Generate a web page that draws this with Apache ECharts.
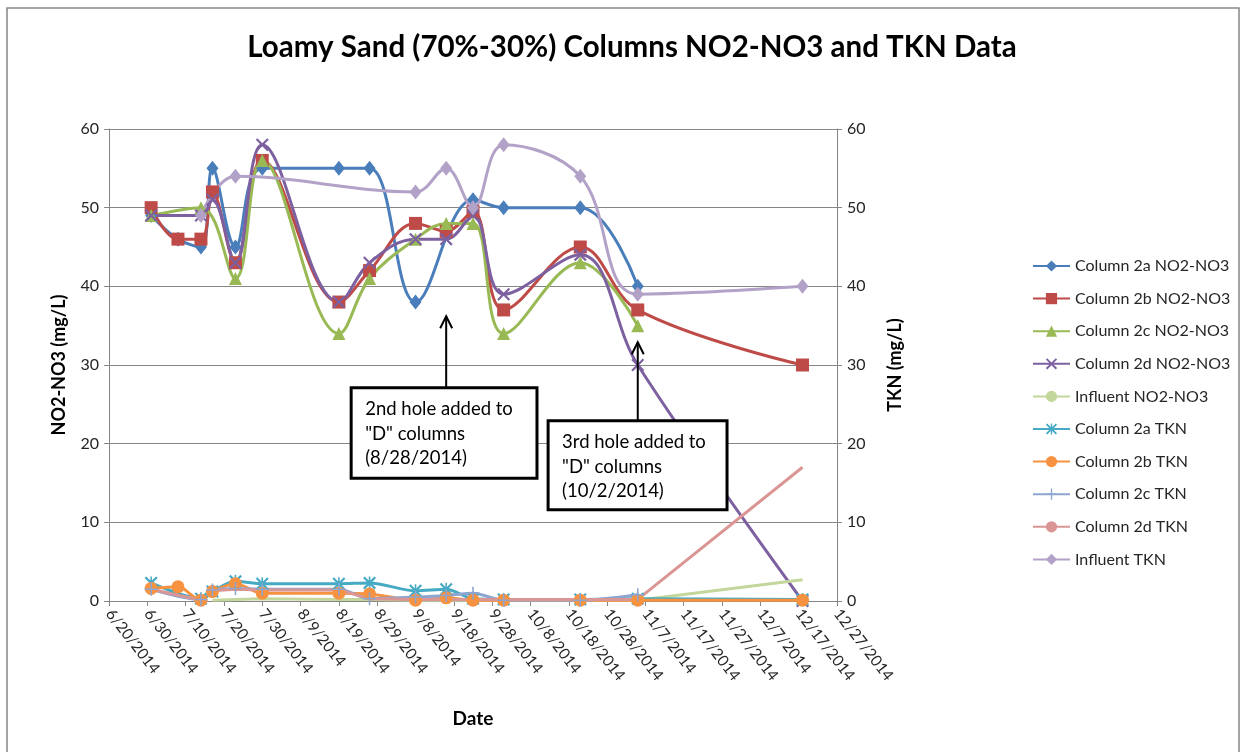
<!DOCTYPE html>
<html><head><meta charset="utf-8">
<script src="https://cdn.jsdelivr.net/npm/echarts@6/dist/echarts.min.js"></script>
<style>html,body{margin:0;padding:0;background:#fff}#c{width:1244px;height:752px}</style>
</head><body><div id="c"></div>
<script>
// ---- data ----
const axisStart = '6/20/2014';
const axisEnd = '12/27/2014';
const tickStepDays = 10;
const yTicks = [0, 10, 20, 30, 40, 50, 60];
const dates = ['7/1/2014','7/8/2014','7/14/2014','7/17/2014','7/23/2014','7/30/2014','8/19/2014','8/27/2014','9/8/2014','9/16/2014','9/23/2014','10/1/2014','10/21/2014','11/5/2014','12/18/2014'];
const col2aNO = [49, 46, 45, 55, 45, 55, 55, 55, 38, null, 51, 50, 50, 40, null];
const col2bNO = [50, 46, 46, 52, 43, 56, 38, 42, 48, 47, 49.5, 37, 45, 37, 30];
const col2cNO = [49, null, 50, null, 41, 56, 34, 41, 46, 48, 48, 34, 43, 35, null];
const col2dNO = [49, null, 49, 51, 43, 58, 38, 43, 46, 46, 49, 39, 44, 30, 0];
const inflNO  = [null, null, null, 0.1, 0.2, 0.3, 0.2, 0.2, 0.1, 0.1, 0.1, 0.1, 0.1, 0.1, 2.7];
const col2aTKN = [2.3, null, 0.3, 1.2, 2.5, 2.2, 2.2, 2.3, 1.3, 1.5, 0.3, 0.2, 0.2, 0.3, 0.2];
const col2bTKN = [1.6, 1.8, 0.1, 1.2, 2.2, 1.0, 1.0, 0.9, 0.1, 0.4, 0.1, 0.1, 0.1, 0.1, 0.1];
const col2cTKN = [1.5, null, 0.2, 1.4, 1.6, 1.5, 1.5, 0.3, 0.5, 0.7, 1.0, 0.1, 0.1, 0.8, null];
const col2dTKN = [1.5, null, 0.1, 1.3, 1.5, 1.4, 1.4, 0.3, 0.2, 0.2, 0.2, 0.2, 0.2, 0.2, 17];
const inflTKN  = [null, null, 49, null, 54, null, null, null, 52, 55, 50, 58, 54, 39, 40];
const seriesNames = ['Column 2a NO2-NO3','Column 2b NO2-NO3','Column 2c NO2-NO3','Column 2d NO2-NO3','Influent NO2-NO3','Column 2a TKN','Column 2b TKN','Column 2c TKN','Column 2d TKN','Influent TKN'];
const notes = [
  {text: ['2nd hole added to', '"D" columns', '(8/28/2014)'], arrowDate: '9/16/2014'},
  {text: ['3rd hole added to', '"D" columns', '(10/2/2014)'], arrowDate: '11/5/2014'}
];

// ---- helpers ----
function toUTC(s){ const p = s.split('/').map(Number); return Date.UTC(p[2], p[0]-1, p[1]); }
const DAY = 86400000;
const t0 = toUTC(axisStart);
function dayOff(s){ return Math.round((toUTC(s) - t0) / DAY); }
function fmt(d){ const dt = new Date(t0 + d*DAY); return (dt.getUTCMonth()+1) + '/' + dt.getUTCDate() + '/' + dt.getUTCFullYear(); }
function pairs(arr){ return dates.map((d,i)=> arr[i]==null ? null : [dayOff(d), arr[i]]).filter(Boolean); }

const FONT = 'Lato';
const xPath = 'path://M0,1.2 L1.2,0 L5,3.8 L8.8,0 L10,1.2 L6.2,5 L10,8.8 L8.8,10 L5,6.2 L1.2,10 L0,8.8 L3.8,5 Z';
const starPath = 'path://M0,1.2 L1.2,0 L5,3.8 L8.8,0 L10,1.2 L6.2,5 L10,8.8 L8.8,10 L5,6.2 L1.2,10 L0,8.8 L3.8,5 Z M4.4,0 L5.6,0 L5.6,10 L4.4,10 Z';
const plusPath = 'path://M4.4,0 L5.6,0 L5.6,4.4 L10,4.4 L10,5.6 L5.6,5.6 L5.6,10 L4.4,10 L4.4,5.6 L0,5.6 L0,4.4 L4.4,4.4 Z';

function mk(idx, arr, color, symbol, size, yAxisIndex, smooth){
  return {
    name: seriesNames[idx], type: 'line', yAxisIndex: yAxisIndex,
    data: pairs(arr), smooth: smooth, symbol: symbol, symbolSize: size,
    showSymbol: symbol !== 'none',
    lineStyle: {color: color, width: 3},
    itemStyle: {color: color, borderWidth: 0},
    emphasis: {disabled: true}, animation: false
  };
}

const series = [
  mk(0, col2aNO, '#4A7EBB', 'diamond', [12,15], 0, 0.38),
  mk(1, col2bNO, '#BE4B48', 'rect', 13, 0, 0.38),
  mk(2, col2cNO, '#98B954', 'triangle', 13, 0, 0.38),
  mk(3, col2dNO, '#7D60A0', xPath, 13, 0, 0.38),
  mk(4, inflNO,  '#C3D69B', 'none', 0, 0, 0),
  mk(5, col2aTKN, '#46AAC5', starPath, 13, 1, 0.3),
  mk(6, col2bTKN, '#F69240', 'circle', 13, 1, 0.3),
  mk(7, col2cTKN, '#8EA5D0', plusPath, 13, 1, 0.3),
  mk(8, col2dTKN, '#D99694', 'none', 0, 1, 0),
  mk(9, inflTKN,  '#B3A2C7', 'diamond', [12,15], 1, 0.38)
];

const chart = echarts.init(document.getElementById('c'), null, {renderer: 'canvas'});
const axisGray = '#868686';
const labelColor = '#262626';
const yAxisCommon = {
  type: 'value', min: yTicks[0], max: yTicks[yTicks.length-1], interval: yTicks[1]-yTicks[0],
  nameLocation: 'middle', nameRotate: 90,
  nameTextStyle: {fontFamily: FONT, fontWeight: 'bold', fontSize: 18, color: '#000'},
  axisLine: {show: true, lineStyle: {color: axisGray}},
  axisTick: {show: true, length: 5, lineStyle: {color: axisGray}},
  axisLabel: {fontFamily: FONT, fontSize: 16, color: labelColor, margin: 10}
};
chart.setOption({
  animation: false,
  backgroundColor: '#fff',
  title: {text: 'Loamy Sand (70%-30%) Columns NO2-NO3 and TKN Data', left: 627, top: 27, textAlign: 'center',
    textStyle: {fontFamily: FONT, fontWeight: 'bold', fontSize: 29.5, color: '#000'}},
  grid: {left: 109, right: 407, top: 129, bottom: 151, containLabel: false},
  legend: {orient: 'vertical', left: 1027, top: 253, itemWidth: 37, itemHeight: 14, itemGap: 16.6,
    textStyle: {fontFamily: FONT, fontSize: 16, color: labelColor, lineHeight: 14},
    data: seriesNames, selectedMode: false},
  xAxis: {type: 'value', min: 0, max: dayOff(axisEnd), interval: tickStepDays,
    name: 'Date', nameLocation: 'middle', nameGap: 108,
    nameTextStyle: {fontFamily: FONT, fontWeight: 'bold', fontSize: 19, color: '#000'},
    axisLine: {show: true, onZero: false, lineStyle: {color: axisGray}},
    axisTick: {show: true, length: 5, lineStyle: {color: axisGray}},
    splitLine: {show: false},
    axisLabel: {formatter: v => fmt(v), rotate: -52, fontFamily: FONT, fontSize: 15.5, color: labelColor, margin: 10}
  },
  yAxis: [
    Object.assign({}, yAxisCommon, {name: 'NO2-NO3 (mg/L)', nameGap: 41, position: 'left',
      splitLine: {show: true, lineStyle: {color: axisGray, width: 1}}}),
    Object.assign({}, yAxisCommon, {name: 'TKN (mg/L)', nameGap: 49, position: 'right',
      splitLine: {show: false}})
  ],
  series: series
});

// ---- annotations (callout boxes anchored to data coordinates) ----
function px(d, v){ return chart.convertToPixel({xAxisIndex: 0, yAxisIndex: 0}, [d, v]); }
const boxes = [
  {x0: 63.2, x1: 111.7, yTop: 27.1, yBot: 15.6, tipV: 36.2},
  {x0: 114.6, x1: 161.3, yTop: 22.9, yBot: 11.6, tipV: 32.9}
];
const g = [{type: 'rect', shape: {x: 7, y: 8, width: 1232, height: 770}, style: {fill: 'none', stroke: axisGray, lineWidth: 1.5}, z: 0, silent: true}];
notes.forEach((n, i) => {
  const b = boxes[i];
  const p0 = px(b.x0, b.yTop), p1 = px(b.x1, b.yBot);
  const ax = px(dayOff(n.arrowDate), b.tipV);
  const ab = px(dayOff(n.arrowDate), b.yTop);
  g.push({type: 'line', shape: {x1: ax[0], y1: ab[1], x2: ax[0], y2: ax[1]}, style: {stroke: '#000', lineWidth: 2}, z: 100});
  g.push({type: 'polyline', shape: {points: [[ax[0]-6, ax[1]+12], [ax[0], ax[1]], [ax[0]+6, ax[1]+12]]}, style: {stroke: '#000', lineWidth: 2, fill: 'none'}, z: 100});
  g.push({type: 'rect', shape: {x: p0[0], y: p0[1], width: p1[0]-p0[0], height: p1[1]-p0[1]}, style: {fill: '#fff', stroke: '#000', lineWidth: 3}, z: 100});
  g.push({type: 'text', x: p0[0] + 14, y: p0[1] + 9, style: {text: n.text.join('\n'), fontFamily: FONT, fontSize: 18.5, lineHeight: 24.5, fill: '#000'}, z: 101});
});
chart.setOption({graphic: g});
</script></body></html>
